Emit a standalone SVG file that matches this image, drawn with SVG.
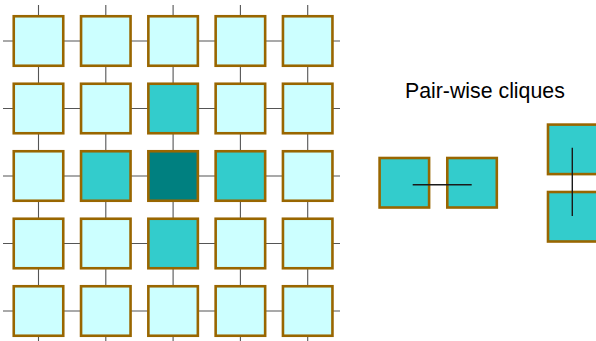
<svg xmlns="http://www.w3.org/2000/svg" width="596" height="341" viewBox="0 0 596 341">
<style>
.n rect{stroke:#996600;stroke-width:2.6;width:49.5px;height:49.5px}
.l{fill:#CCFFFF}.m{fill:#33CCCC}.d{fill:#008080}
.e line{stroke:#555;stroke-width:1.1}
.p line{stroke:#1a1a1a;stroke-width:1.4}
text{font-family:"Liberation Sans",Arial,sans-serif;font-size:21.3px;fill:#000}
</style>
<rect width="596" height="341" fill="#fff"/>
<g id="grid-edges" class="e">
<line x1="3" y1="41" x2="340" y2="41"/>
<line x1="3" y1="108.5" x2="340" y2="108.5"/>
<line x1="3" y1="176" x2="340" y2="176"/>
<line x1="3" y1="243.5" x2="340" y2="243.5"/>
<line x1="3" y1="311" x2="340" y2="311"/>
<line x1="38.5" y1="5" x2="38.5" y2="341"/>
<line x1="105.8" y1="5" x2="105.8" y2="341"/>
<line x1="173.1" y1="5" x2="173.1" y2="341"/>
<line x1="240.4" y1="5" x2="240.4" y2="341"/>
<line x1="307.7" y1="5" x2="307.7" y2="341"/>
</g>
<g id="n00" class="n"><rect class="l" x="13.75" y="16.25"/></g>
<g id="n01" class="n"><rect class="l" x="81.05" y="16.25"/></g>
<g id="n02" class="n"><rect class="l" x="148.35" y="16.25"/></g>
<g id="n03" class="n"><rect class="l" x="215.65" y="16.25"/></g>
<g id="n04" class="n"><rect class="l" x="282.95" y="16.25"/></g>
<g id="n10" class="n"><rect class="l" x="13.75" y="83.75"/></g>
<g id="n11" class="n"><rect class="l" x="81.05" y="83.75"/></g>
<g id="n12" class="n"><rect class="m" x="148.35" y="83.75"/></g>
<g id="n13" class="n"><rect class="l" x="215.65" y="83.75"/></g>
<g id="n14" class="n"><rect class="l" x="282.95" y="83.75"/></g>
<g id="n20" class="n"><rect class="l" x="13.75" y="151.25"/></g>
<g id="n21" class="n"><rect class="m" x="81.05" y="151.25"/></g>
<g id="n22" class="n"><rect class="d" x="148.35" y="151.25"/></g>
<g id="n23" class="n"><rect class="m" x="215.65" y="151.25"/></g>
<g id="n24" class="n"><rect class="l" x="282.95" y="151.25"/></g>
<g id="n30" class="n"><rect class="l" x="13.75" y="218.75"/></g>
<g id="n31" class="n"><rect class="l" x="81.05" y="218.75"/></g>
<g id="n32" class="n"><rect class="m" x="148.35" y="218.75"/></g>
<g id="n33" class="n"><rect class="l" x="215.65" y="218.75"/></g>
<g id="n34" class="n"><rect class="l" x="282.95" y="218.75"/></g>
<g id="n40" class="n"><rect class="l" x="13.75" y="286.25"/></g>
<g id="n41" class="n"><rect class="l" x="81.05" y="286.25"/></g>
<g id="n42" class="n"><rect class="l" x="148.35" y="286.25"/></g>
<g id="n43" class="n"><rect class="l" x="215.65" y="286.25"/></g>
<g id="n44" class="n"><rect class="l" x="282.95" y="286.25"/></g>
<text id="title" x="405" y="98">Pair-wise cliques</text>
<g id="pA1" class="n"><rect class="m" x="379.6" y="158"/></g>
<g id="pA2" class="n"><rect class="m" x="447.3" y="158"/></g>
<g id="pB1" class="n"><rect class="m" x="548" y="124.6"/></g>
<g id="pB2" class="n"><rect class="m" x="548" y="192"/></g>
<g id="pair-edges" class="p">
<line x1="412.7" y1="184.7" x2="471.7" y2="184.7"/>
<line x1="572.3" y1="147.7" x2="572.3" y2="216"/>
</g>
</svg>
